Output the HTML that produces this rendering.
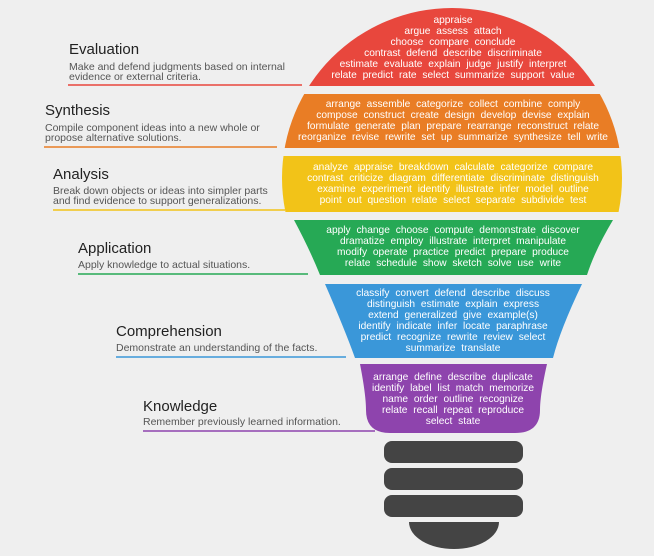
<!DOCTYPE html>
<html><head><meta charset="utf-8"><style>
html,body{margin:0;padding:0;background:#efefef;}
svg{display:block;font-family:"Liberation Sans",sans-serif;}
.t{font-size:15px;fill:#222;}
.d{font-size:10.5px;fill:#555;}
.w{font-size:10.2px;fill:#fff;text-anchor:middle;word-spacing:3px;}
</style></head><body>
<svg width="654" height="556" viewBox="0 0 654 556">
<rect width="654" height="556" fill="#efefef"/>
<defs><clipPath id="c"><circle cx="452" cy="178" r="170"/></clipPath></defs>
<g clip-path="url(#c)">
<rect x="270" y="0" width="370" height="86" fill="#e8473d"/>
<rect x="270" y="94" width="370" height="54" fill="#e97d25"/>
<rect x="270" y="156" width="370" height="56" fill="#f2c318"/>
</g>
<path d="M294,220 L613,220 Q595,250 587,275 L320,275 Q310,250 294,220 Z" fill="#26a955"/>
<path d="M325,284 L582,284 Q560,330 553,358 L355,358 Q345,330 325,284 Z" fill="#3a97d9"/>
<path d="M360,364 L547,364 Q540,395 540,410 Q540,433 515,433 L390,433 Q366,433 366,410 Q366,395 360,364 Z" fill="#8e44ad"/>
<rect x="384" y="441" width="139" height="22" rx="8" fill="#444"/>
<rect x="384" y="468" width="139" height="22" rx="8" fill="#444"/>
<rect x="384" y="495" width="139" height="22" rx="8" fill="#444"/>
<path d="M409,522 L499,522 A45,27 0 0 1 409,522 Z" fill="#444"/>

<g class="w">
<text x="453" y="23">appraise</text>
<text x="453" y="34">argue assess attach</text>
<text x="453" y="45">choose compare conclude</text>
<text x="453" y="56">contrast defend describe discriminate</text>
<text x="453" y="67">estimate evaluate explain judge justify interpret</text>
<text x="453" y="78">relate predict rate select summarize support value</text>
<text x="453" y="107">arrange assemble categorize collect combine comply</text>
<text x="453" y="118">compose construct create design develop devise explain</text>
<text x="453" y="129">formulate generate plan prepare rearrange reconstruct relate</text>
<text x="453" y="140">reorganize revise rewrite set up summarize synthesize tell write</text>
<text x="453" y="170">analyze appraise breakdown calculate categorize compare</text>
<text x="453" y="181">contrast criticize diagram differentiate discriminate distinguish</text>
<text x="453" y="192">examine experiment identify illustrate infer model outline</text>
<text x="453" y="203">point out question relate select separate subdivide test</text>
<text x="453" y="233">apply change choose compute demonstrate discover</text>
<text x="453" y="244">dramatize employ illustrate interpret manipulate</text>
<text x="453" y="255">modify operate practice predict prepare produce</text>
<text x="453" y="266">relate schedule show sketch solve use write</text>
<text x="453" y="296">classify convert defend describe discuss</text>
<text x="453" y="307">distinguish estimate explain express</text>
<text x="453" y="318">extend generalized give example(s)</text>
<text x="453" y="329">identify indicate infer locate paraphrase</text>
<text x="453" y="340">predict recognize rewrite review select</text>
<text x="453" y="351">summarize translate</text>
<text x="453" y="380">arrange define describe duplicate</text>
<text x="453" y="391">identify label list match memorize</text>
<text x="453" y="402">name order outline recognize</text>
<text x="453" y="413">relate recall repeat reproduce</text>
<text x="453" y="424">select state</text>
</g>

<text class="t" x="69" y="54">Evaluation</text>
<text class="d" x="69" y="70">Make and defend judgments based on internal</text>
<text class="d" x="69" y="80">evidence or external criteria.</text>
<line x1="68" y1="85" x2="302" y2="85" stroke="#e8473d" stroke-width="1.5"/>

<text class="t" x="45" y="115">Synthesis</text>
<text class="d" x="45" y="131">Compile component ideas into a new whole or</text>
<text class="d" x="45" y="141">propose alternative solutions.</text>
<line x1="44" y1="147" x2="277" y2="147" stroke="#e97d25" stroke-width="1.5"/>

<text class="t" x="53" y="179">Analysis</text>
<text class="d" x="53" y="194">Break down objects or ideas into simpler parts</text>
<text class="d" x="53" y="204">and find evidence to support generalizations.</text>
<line x1="53" y1="210" x2="285" y2="210" stroke="#f2c318" stroke-width="1.5"/>

<text class="t" x="78" y="253">Application</text>
<text class="d" x="78" y="268">Apply knowledge to actual situations.</text>
<line x1="78" y1="274" x2="308" y2="274" stroke="#26a955" stroke-width="1.5"/>

<text class="t" x="116" y="336">Comprehension</text>
<text class="d" x="116" y="351">Demonstrate an understanding of the facts.</text>
<line x1="116" y1="357" x2="346" y2="357" stroke="#3a97d9" stroke-width="1.5"/>

<text class="t" x="143" y="411">Knowledge</text>
<text class="d" x="143" y="425">Remember previously learned information.</text>
<line x1="143" y1="431" x2="375" y2="431" stroke="#8e44ad" stroke-width="1.5"/>
</svg>
</body></html>
